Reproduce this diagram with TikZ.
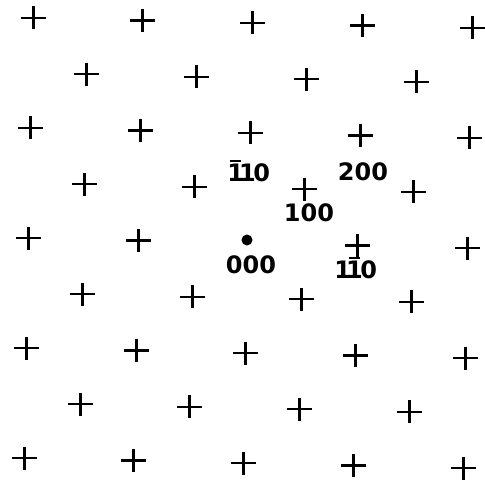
\documentclass[tikz,border=0pt]{standalone}
\usepackage{fontspec}
\setmainfont{DejaVu Sans}
\newcommand\onedig{\kern-2.5pt 1\kern-2.5pt\relax}
\newcommand\obarone{\setbox0\hbox{\onedig}\rlap{\hbox to \wd0{\hss\raisebox{\dimexpr\ht0+2pt\relax}{\rule{11pt}{2pt}}\hss}}\box0\relax}
\tikzset{
  latt/.pic={
    \draw[line width=3pt] (0,-11.5) -- (0,11.5);
    \draw[line width=2.3pt] (-12.5,0) -- (12.5,0);
  },
  lbl/.style={inner sep=0pt, font=\bfseries\fontsize{24}{24}\selectfont},
}
\begin{document}
\begin{tikzpicture}[x={(1pt,0)}, y={(0,-1pt)}]
\useasboundingbox[fill=white] (0,0) rectangle (484,486);
\foreach \i in {0,...,8} {
  \pgfmathsetmacro\off{mod(\i,2)*0.5}
  \pgfmathtruncatemacro\n{mod(\i,2)==0 ? 4 : 3}
  \foreach \j in {0,...,\n} {
    \pgfmathsetmacro\u{\j+\off}
    \pgfmathsetmacro\px{33+109.75*\u-1.1*\i}
    \pgfmathsetmacro\py{18+55*\i+2.5*\u}
    \pgfmathtruncatemacro\isdot{(\i==4)&&(\j==2)}
    \ifnum\isdot=0
      \pic at (\px,\py) {latt};
    \fi
  }
}
\fill (247,240) circle (5.5);
\node[lbl] (l1) at (250,171) {\obarone\onedig 0};
\node[lbl] (l2) at (363,172) {200};
\node[lbl] (l3) at (309,213) {100};
\node[lbl] (l4) at (251,265) {000};
\node[lbl] (l5) at (357,268) {\onedig\obarone 0};
\end{tikzpicture}
\end{document}
